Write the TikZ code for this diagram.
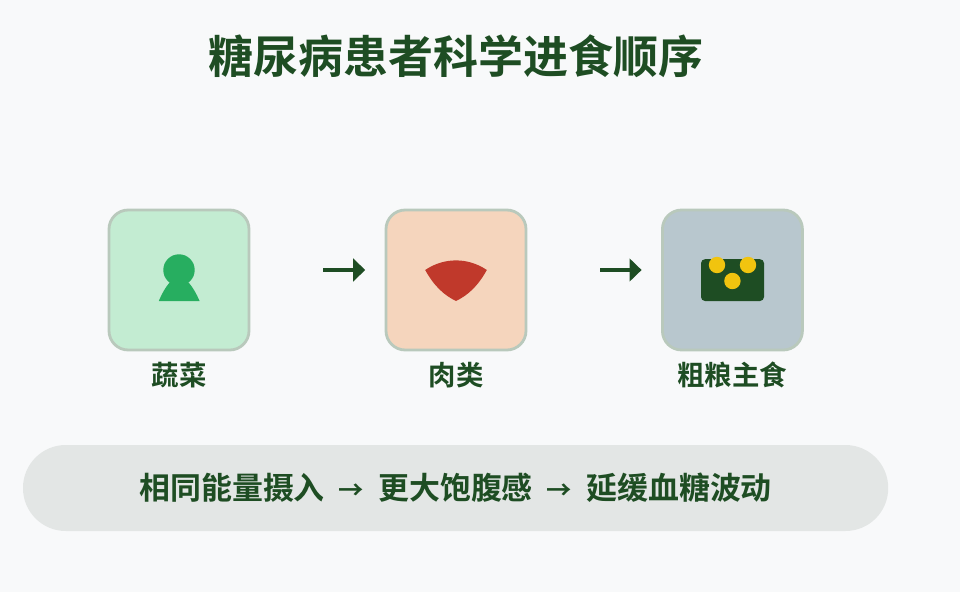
\documentclass[tikz,border=0pt]{standalone}
\usepackage{fontspec}
\newfontfamily\cjk{Noto Sans CJK SC Bold}
\usetikzlibrary{arrows.meta}
\definecolor{pagebg}{HTML}{F8F9FA}
\definecolor{deepgreen}{HTML}{1E4D23}
\definecolor{boxedge}{HTML}{B9C9BC}
\definecolor{vegfill}{HTML}{C3ECD2}
\definecolor{vegicon}{HTML}{27AE60}
\definecolor{meatfill}{HTML}{F5D5BD}
\definecolor{meaticon}{HTML}{C0392B}
\definecolor{grainfill}{HTML}{B8C7CE}
\definecolor{graindot}{HTML}{F1C40F}
\definecolor{pillfill}{HTML}{E3E6E5}
\newcommand{\pillarrow}{\hspace{3pt} \makebox[22pt][c]{\fontsize{18}{18}\selectfont →} \hspace{3pt}}
\tikzset{
	foodbox/.style={draw=boxedge, line width=0.07cm, rounded corners=0.48cm, minimum size=3.5cm, outer sep=0pt},
	foodlabel/.style={text=deepgreen, font=\cjk\fontsize{19.5}{23}\selectfont},
	steparrow/.style={draw=deepgreen, line width=0.08cm, -{Triangle[length=0.3cm,width=0.56cm]}, shorten <=1.85cm, shorten >=0.52cm}
}

\begin{document}
\begin{tikzpicture}
			%%%%% START %%%%%
			
			\useasboundingbox[fill=pagebg] (0, 0) rectangle (24, 14.8);
			
			\node[text=deepgreen, font=\cjk\fontsize{32}{38}\selectfont] (title) at (11.39, 13.4) {糖尿病患者科学进食顺序};
			
			\node[foodbox, fill=vegfill] (veg) at (4.475, 7.8) {};
			\node[foodbox, fill=meatfill] (meat) at (11.4, 7.8) {};
			\node[foodbox, fill=grainfill] (grain) at (18.31, 7.8) {};
			
			\node[foodlabel] (veglabel) at (4.475, 5.42) {蔬菜};
			\node[foodlabel] (meatlabel) at (11.4, 5.42) {肉类};
			\node[foodlabel] (grainlabel) at (18.31, 5.42) {粗粮主食};
			
			\draw[steparrow] ([yshift=0.25cm]veg.east) -- ([yshift=0.25cm]meat.west);
			\draw[steparrow] ([yshift=0.25cm]meat.east) -- ([yshift=0.25cm]grain.west);
			
			% vegetable
			\fill[vegicon] (4.475, 8.05) circle (0.393);
			\fill[vegicon] (3.97, 7.275) .. controls (4.307, 8.06) and (4.643, 8.06) .. (4.99, 7.275) -- cycle;
			
			% meat
			\fill[meaticon] (10.63, 8.05) .. controls (11.1, 8.37) and (11.7, 8.37) .. (12.17, 8.05) .. controls (11.95, 7.65) and (11.7, 7.42) .. (11.4, 7.275) .. controls (11.1, 7.42) and (10.85, 7.65) .. (10.63, 8.05) -- cycle;
			
			% grain
			\fill[deepgreen, rounded corners=0.1cm] (17.525, 7.275) rectangle (19.1, 8.32);
			\fill[graindot] (17.925, 8.175) circle (0.205);
			\fill[graindot] (18.7, 8.175) circle (0.205);
			\fill[graindot] (18.31, 7.775) circle (0.205);
			
			\node[fill=pillfill, rounded corners=1.07cm, minimum width=21.63cm, minimum height=2.15cm, outer sep=0pt, text=deepgreen, font=\cjk\fontsize{22}{26}\selectfont] (summary) at (11.39, 2.6) {相同能量摄入\pillarrow 更大饱腹感\pillarrow 延缓血糖波动};
			
			%%%%% END %%%%%
		\end{tikzpicture}
\end{document}
